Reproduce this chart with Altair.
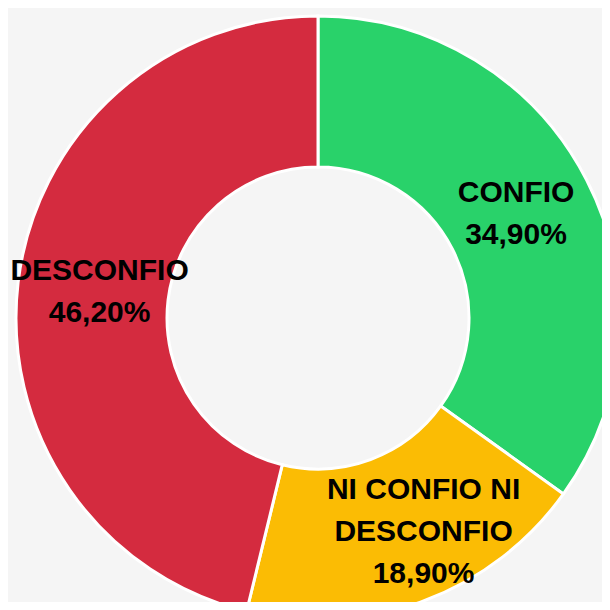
import altair as alt
import pandas as pd

categories = ["CONFIO", "NI CONFIO NI DESCONFIO", "DESCONFIO"]
values = [34.9, 18.9, 46.2]
labels = ["CONFIO\n34,90%", "NI CONFIO NI\nDESCONFIO\n18,90%", "DESCONFIO\n46,20%"]
order = [0, 1, 2]
colors = ["#29d26a", "#fbbc04", "#d42b3f"]
# label nudges (dx, dy) in pixels
nudges = {"CONFIO": (-3, -22), "NI CONFIO NI DESCONFIO": (27, -40), "DESCONFIO": (6, -20)}

df = pd.DataFrame({"cat": categories, "val": values, "label": labels, "ord": order})

theta_scale = alt.Scale(domain=[0, 100])

arcs = alt.Chart(df).mark_arc(
    innerRadius=151, outerRadius=302, stroke="white", strokeWidth=3
).encode(
    theta=alt.Theta("val:Q", stack=True, scale=theta_scale),
    order=alt.Order("ord:Q"),
    color=alt.Color("cat:N", scale=alt.Scale(domain=categories, range=colors), legend=None),
    x=alt.value(310),
    y=alt.value(310),
)

text_base = alt.Chart(df).transform_window(
    cum="sum(val)", sort=[alt.SortField("ord")]
).transform_calculate(mid="datum.cum - datum.val / 2")

layers = [arcs]
for cat in categories:
    dx, dy = nudges[cat]
    layers.append(
        text_base.transform_filter(alt.datum.cat == cat).mark_text(
            radius=226, fontSize=30, fontWeight="bold", font="Liberation Sans",
            lineBreak="\n", lineHeight=42, color="black", align="center",
            baseline="middle", dx=dx, dy=dy
        ).encode(
            theta=alt.Theta("mid:Q", scale=theta_scale, stack=None),
            text="label:N",
            x=alt.value(310),
            y=alt.value(310),
        )
    )

chart = alt.layer(*layers).properties(
    width=594, height=594, padding=0, autosize=alt.AutoSizeParams(type="none"),
    background="#f5f5f5"
).configure_view(stroke=None)

chart.save("out.html", embed_options={"renderer": "svg", "actions": False})
